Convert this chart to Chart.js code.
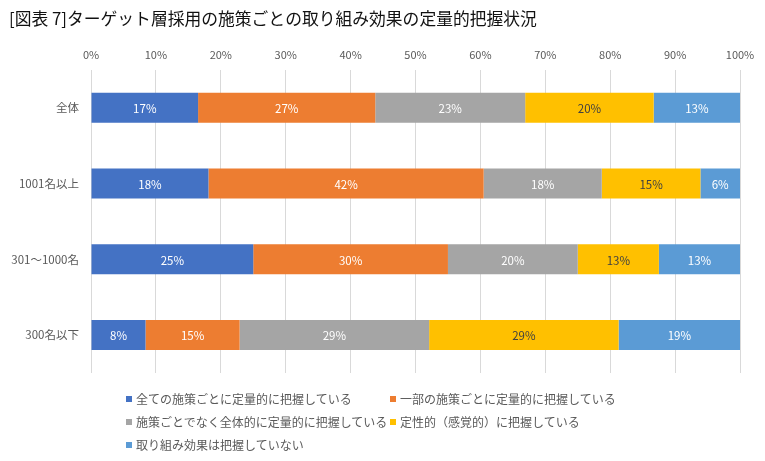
<!DOCTYPE html>
<html lang="ja">
<head>
<meta charset="utf-8">
<script src="https://cdn.jsdelivr.net/npm/chart.js@4.4.1/dist/chart.umd.min.js"></script>
<style>
  html, body { margin: 0; padding: 0; background: #fff; }
  #wrap { position: relative; width: 765px; height: 461px; }
  #legend {
    position: absolute; left: 126px; top: 387px;
    display: grid; grid-template-columns: 264px auto; grid-auto-rows: 23px;
    font-family: 'Noto Sans CJK JP', sans-serif; font-size: 12px; color: #595959;
  }
  .item { display: flex; align-items: center; white-space: nowrap; }
  .box { width: 6px; height: 6px; margin-right: 4px; flex: none; }
</style>
</head>
<body>
<div id="wrap">
  <canvas id="c" width="765" height="461"></canvas>
  <div id="legend"></div>
</div>
<script>
const title = '[図表 7]ターゲット層採用の施策ごとの取り組み効果の定量的把握状況';
const categories = ['全体', '1001名以上', '301〜1000名', '300名以下'];
const seriesNames = [
  '全ての施策ごとに定量的に把握している',
  '一部の施策ごとに定量的に把握している',
  '施策ごとでなく全体的に定量的に把握している',
  '定性的（感覚的）に把握している',
  '取り組み効果は把握していない'
];
const allMeasures   = [16.5, 18.1, 25.0, 8.4];
const someMeasures  = [27.3, 42.4, 30.0, 14.5];
const overall       = [23.1, 18.2, 20.0, 29.2];
const qualitative   = [19.8, 15.2, 12.5, 29.2];
const notMeasured   = [13.3, 6.1, 12.5, 18.7];
const xTicks = [0, 10, 20, 30, 40, 50, 60, 70, 80, 90, 100];

const colors = ['#4472C4', '#ED7D31', '#A5A5A5', '#FFC000', '#5B9BD5'];
const labelColors = ['#ffffff', '#ffffff', '#ffffff', '#404040', '#ffffff'];
const seriesValues = [allMeasures, someMeasures, overall, qualitative, notMeasured];
const FONT = "'Noto Sans CJK JP', sans-serif";

const valueLabels = {
  id: 'valueLabels',
  afterDatasetsDraw(chart) {
    const ctx = chart.ctx;
    ctx.save();
    ctx.font = '11.5px ' + FONT;
    ctx.textAlign = 'center';
    ctx.textBaseline = 'middle';
    chart.data.datasets.forEach((ds, i) => {
      const meta = chart.getDatasetMeta(i);
      ctx.fillStyle = labelColors[i];
      meta.data.forEach((bar, j) => {
        const cx = (bar.x + bar.base) / 2;
        ctx.fillText(Math.round(ds.data[j]) + '%', cx, bar.y + 1);
      });
    });
    ctx.restore();
  }
};

const chart = new Chart(document.getElementById('c'), {
  type: 'bar',
  data: {
    labels: categories,
    datasets: seriesValues.map((vals, i) => ({
      label: seriesNames[i],
      data: vals,
      backgroundColor: colors[i],
      borderWidth: 0,
      barPercentage: 0.396,
      categoryPercentage: 1
    }))
  },
  options: {
    indexAxis: 'y',
    responsive: false,
    animation: false,
    layout: { padding: { left: 9, right: 25, top: 0, bottom: 88 } },
    plugins: {
      legend: { display: false },
      tooltip: { enabled: false },
      title: {
        display: true, text: title, align: 'start', color: '#111',
        font: { family: FONT, size: 16.8, weight: 'normal', lineHeight: 1.2 },
        padding: { top: 9, bottom: 0 }
      }
    },
    scales: {
      x: {
        position: 'top', stacked: true, min: 0, max: 100,
        afterBuildTicks: (s) => { s.ticks = xTicks.map(v => ({ value: v })); },
        afterFit: (s) => { s.height = 40.8; },
        grid: { color: '#d9d9d9', drawTicks: false },
        border: { display: false },
        ticks: { padding: 9, color: '#595959', font: { family: FONT, size: 11 }, callback: v => v + '%' }
      },
      y: {
        stacked: true,
        afterFit: (s) => { s.width = 82; },
        grid: { display: false, drawTicks: false },
        border: { display: false },
        ticks: { padding: 12, color: '#595959', font: { family: FONT, size: 11.5 } }
      }
    }
  },
  plugins: [valueLabels]
});

const legendEl = document.getElementById('legend');
chart.data.datasets.forEach(ds => {
  const item = document.createElement('div');
  item.className = 'item';
  const box = document.createElement('span');
  box.className = 'box';
  box.style.background = ds.backgroundColor;
  const txt = document.createElement('span');
  txt.textContent = ds.label;
  item.appendChild(box);
  item.appendChild(txt);
  legendEl.appendChild(item);
});
</script>
</body>
</html>
